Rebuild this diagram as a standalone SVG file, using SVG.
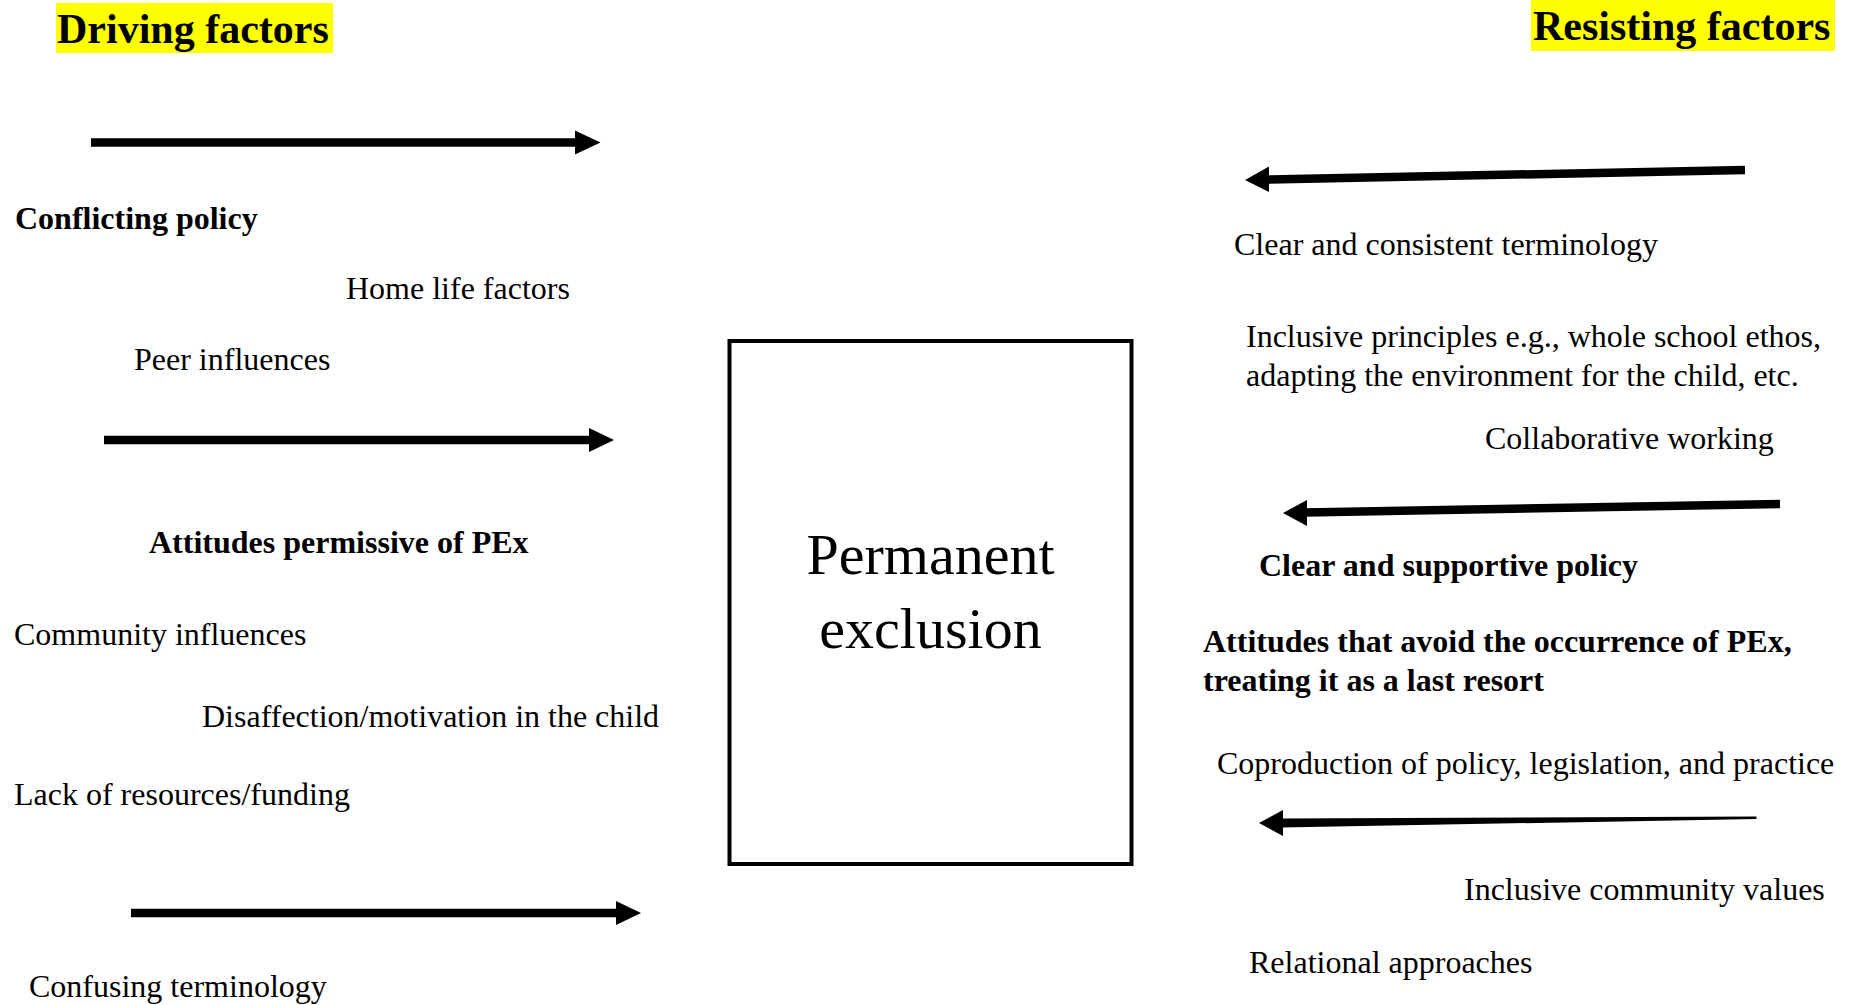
<svg xmlns="http://www.w3.org/2000/svg" width="1854" height="1005" viewBox="0 0 1854 1005">
<style>
text{font-family:"Liberation Serif","Times New Roman",serif;fill:#000}
.t{font-size:32px}
.b{font-size:32px;font-weight:bold}
.h{font-size:42px;font-weight:bold}
.big{font-size:58px;text-anchor:middle}
.hl{fill:#FFFF00}
.shaft{stroke:#000;stroke-width:8.5;fill:none}
.head{fill:#000}
</style>
<rect width="1854" height="1005" fill="#fff"/>
<g id="header-driving">
<rect class="hl" x="56" y="3" width="277" height="50"/>
<text class="h" x="57" y="43">Driving factors</text>
</g>
<g id="header-resisting">
<rect class="hl" x="1531" y="0" width="304" height="51"/>
<text class="h" x="1533" y="40">Resisting factors</text>
</g>
<g id="permanent-exclusion">
<rect x="729.5" y="341" width="402" height="523" fill="none" stroke="#000" stroke-width="4"/>
<text class="big" x="930.5" y="574">Permanent</text>
<text class="big" x="930.5" y="648">exclusion</text>
</g>
<g id="driving-factors">
<g id="d-conflicting-policy"><text class="b" x="15" y="229">Conflicting policy</text></g>
<g id="d-home-life"><text class="t" x="346" y="299">Home life factors</text></g>
<g id="d-peer"><text class="t" x="134" y="370">Peer influences</text></g>
<g id="d-attitudes"><text class="b" x="149" y="553">Attitudes permissive of PEx</text></g>
<g id="d-community"><text class="t" x="14" y="645">Community influences</text></g>
<g id="d-disaffection"><text class="t" x="202" y="727">Disaffection/motivation in the child</text></g>
<g id="d-resources"><text class="t" x="14" y="805">Lack of resources/funding</text></g>
<g id="d-terminology"><text class="t" x="29" y="997">Confusing terminology</text></g>
</g>
<g id="resisting-factors">
<g id="r-terminology"><text class="t" x="1234" y="255">Clear and consistent terminology</text></g>
<g id="r-inclusive-principles"><text class="t" x="1246" y="347">Inclusive principles e.g., whole school ethos,</text><text class="t" x="1246" y="386">adapting the environment for the child, etc.</text></g>
<g id="r-collaborative"><text class="t" x="1485" y="449">Collaborative working</text></g>
<g id="r-policy"><text class="b" x="1259" y="576">Clear and supportive policy</text></g>
<g id="r-attitudes"><text class="b" x="1203" y="652">Attitudes that avoid the occurrence of PEx,</text><text class="b" x="1203" y="691">treating it as a last resort</text></g>
<g id="r-coproduction"><text class="t" x="1217" y="774">Coproduction of policy, legislation, and practice</text></g>
<g id="r-community"><text class="t" x="1464" y="900">Inclusive community values</text></g>
<g id="r-relational"><text class="t" x="1249" y="973">Relational approaches</text></g>
</g>
<g id="connectors">
<line class="shaft" x1="91" y1="142.5" x2="577" y2="142.5"/>
<polygon class="head" points="575,130.5 600.5,142.5 575,154.5"/>
<line class="shaft" x1="104" y1="440" x2="591" y2="440"/>
<polygon class="head" points="589,428 614,440 589,452"/>
<line class="shaft" x1="131" y1="913" x2="618" y2="913"/>
<polygon class="head" points="616,901 641,913 616,925"/>
<line class="shaft" x1="1267" y1="179.5" x2="1745" y2="170"/>
<polygon class="head" points="1269,166.5 1245,180 1269,192"/>
<line class="shaft" x1="1305" y1="512.5" x2="1780" y2="504"/>
<polygon class="head" points="1307,500 1283,513 1307,526"/>
<polygon class="head" points="1281,818.5 1756.5,816.5 1756.5,819 1281,827.5"/>
<polygon class="head" points="1283,810 1259,823 1283,836"/>
</g>
</svg>
